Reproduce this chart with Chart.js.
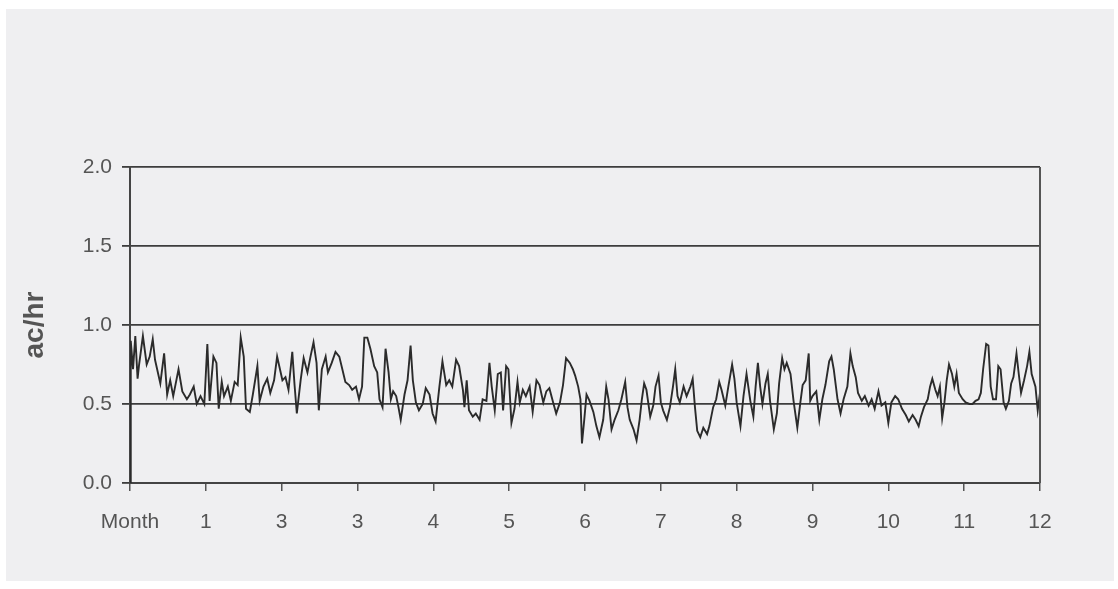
<!DOCTYPE html>
<html>
<head>
<meta charset="utf-8">
<script src="https://cdn.jsdelivr.net/npm/chart.js@4/dist/chart.umd.min.js"></script>
<style>
  html, body { margin: 0; padding: 0; background: #fff; }
  #wrap { position: relative; width: 1118px; height: 589px; }
  #paper { position: absolute; left: 6px; top: 9px; right: 4px; bottom: 8px; background: #efeff1; }
  #myChart { position: absolute; left: 0; top: 0; }
</style>
</head>
<body>
<div id="wrap">
  <div id="paper"></div>
  <canvas id="myChart" width="1118" height="589"></canvas>
</div>
<script>
// x tick labels (as printed, including the repeated "3")
const monthLabels = ['Month', '1', '3', '3', '4', '5', '6', '7', '8', '9', '10', '11', '12'];

// time position in months
const months = [
  0.00, 0.01, 0.04, 0.07, 0.10, 0.12, 0.17, 0.22, 0.26, 0.30, 0.33, 0.40, 0.45, 0.49, 0.53, 0.57,
  0.64, 0.69, 0.75, 0.79, 0.84, 0.88, 0.93, 0.98, 1.02, 1.05, 1.10, 1.14, 1.17, 1.21, 1.24, 1.29,
  1.33, 1.38, 1.42, 1.46, 1.50, 1.53, 1.58, 1.62, 1.68, 1.71, 1.76, 1.81, 1.85, 1.90, 1.94, 2.01,
  2.05, 2.09, 2.14, 2.17, 2.20, 2.25, 2.29, 2.34, 2.38, 2.42, 2.46, 2.49, 2.53, 2.58, 2.61, 2.66,
  2.71, 2.76, 2.80, 2.84, 2.89, 2.93, 2.98, 3.02, 3.06, 3.09, 3.13, 3.17, 3.22, 3.26, 3.29, 3.33,
  3.37, 3.41, 3.44, 3.47, 3.51, 3.54, 3.57, 3.62, 3.66, 3.70, 3.73, 3.77, 3.81, 3.86, 3.90, 3.95,
  3.99, 4.03, 4.08, 4.12, 4.17, 4.21, 4.25, 4.30, 4.34, 4.39, 4.41, 4.44, 4.47, 4.52, 4.56, 4.61,
  4.65, 4.70, 4.74, 4.77, 4.81, 4.85, 4.89, 4.92, 4.96, 4.99, 5.03, 5.07, 5.11, 5.14, 5.18, 5.22,
  5.27, 5.31, 5.36, 5.40, 5.45, 5.49, 5.53, 5.58, 5.62, 5.67, 5.71, 5.75, 5.80, 5.84, 5.87, 5.91,
  5.94, 5.96, 5.99, 6.02, 6.06, 6.11, 6.15, 6.19, 6.24, 6.28, 6.31, 6.35, 6.39, 6.44, 6.48, 6.53,
  6.56, 6.59, 6.64, 6.68, 6.72, 6.75, 6.78, 6.81, 6.86, 6.90, 6.93, 6.97, 7.00, 7.03, 7.08, 7.12,
  7.16, 7.19, 7.22, 7.25, 7.30, 7.34, 7.39, 7.42, 7.45, 7.48, 7.52, 7.56, 7.61, 7.64, 7.69, 7.73,
  7.77, 7.80, 7.85, 7.89, 7.94, 7.97, 8.00, 8.05, 8.09, 8.13, 8.18, 8.22, 8.25, 8.28, 8.31, 8.34,
  8.38, 8.41, 8.44, 8.49, 8.53, 8.56, 8.60, 8.63, 8.66, 8.71, 8.75, 8.80, 8.84, 8.87, 8.91, 8.95,
  8.97, 9.00, 9.05, 9.09, 9.13, 9.17, 9.22, 9.25, 9.28, 9.33, 9.37, 9.41, 9.46, 9.50, 9.53, 9.57,
  9.60, 9.65, 9.69, 9.74, 9.78, 9.82, 9.87, 9.91, 9.96, 10.00, 10.04, 10.09, 10.13, 10.18, 10.23, 10.27,
  10.32, 10.36, 10.40, 10.43, 10.47, 10.52, 10.55, 10.58, 10.62, 10.65, 10.68, 10.71, 10.74, 10.77, 10.80, 10.84,
  10.87, 10.90, 10.93, 10.98, 11.02, 11.07, 11.11, 11.15, 11.19, 11.22, 11.25, 11.29, 11.32, 11.35, 11.38, 11.42,
  11.45, 11.48, 11.52, 11.55, 11.59, 11.62, 11.65, 11.69, 11.72, 11.75, 11.79, 11.83, 11.86, 11.89, 11.94, 11.97,
  12.00
];

// air changes per hour
const airChanges = [
  0, 0.90, 0.72, 0.93, 0.66, 0.75, 0.93, 0.75, 0.80, 0.91, 0.78, 0.63, 0.82, 0.56, 0.65, 0.55,
  0.72, 0.58, 0.53, 0.56, 0.61, 0.50, 0.55, 0.50, 0.88, 0.52, 0.80, 0.76, 0.47, 0.64, 0.55, 0.61,
  0.52, 0.64, 0.62, 0.92, 0.80, 0.47, 0.45, 0.56, 0.74, 0.52, 0.61, 0.66, 0.57, 0.65, 0.80, 0.65,
  0.67, 0.59, 0.83, 0.62, 0.44, 0.65, 0.79, 0.70, 0.80, 0.89, 0.76, 0.46, 0.72, 0.80, 0.70, 0.76,
  0.83, 0.80, 0.72, 0.64, 0.62, 0.59, 0.61, 0.53, 0.61, 0.92, 0.92, 0.85, 0.74, 0.70, 0.53, 0.48,
  0.85, 0.70, 0.53, 0.58, 0.55, 0.48, 0.40, 0.56, 0.65, 0.87, 0.65, 0.51, 0.46, 0.50, 0.60, 0.56,
  0.44, 0.39, 0.61, 0.77, 0.62, 0.65, 0.61, 0.78, 0.74, 0.59, 0.48, 0.65, 0.46, 0.42, 0.44, 0.40,
  0.53, 0.52, 0.76, 0.61, 0.46, 0.69, 0.70, 0.46, 0.74, 0.72, 0.38, 0.47, 0.64, 0.51, 0.59, 0.55,
  0.61, 0.45, 0.65, 0.62, 0.51, 0.58, 0.60, 0.51, 0.44, 0.51, 0.62, 0.79, 0.76, 0.72, 0.68, 0.61,
  0.53, 0.25, 0.40, 0.56, 0.52, 0.45, 0.36, 0.29, 0.40, 0.61, 0.53, 0.34, 0.40, 0.46, 0.53, 0.64,
  0.48, 0.40, 0.34, 0.27, 0.40, 0.53, 0.63, 0.59, 0.42, 0.49, 0.61, 0.68, 0.51, 0.46, 0.40, 0.48,
  0.61, 0.72, 0.55, 0.51, 0.61, 0.55, 0.61, 0.66, 0.48, 0.33, 0.29, 0.35, 0.31, 0.36, 0.48, 0.53,
  0.64, 0.59, 0.49, 0.61, 0.75, 0.66, 0.51, 0.36, 0.55, 0.69, 0.52, 0.42, 0.61, 0.76, 0.61, 0.50,
  0.63, 0.69, 0.52, 0.34, 0.44, 0.63, 0.79, 0.72, 0.76, 0.69, 0.52, 0.35, 0.51, 0.62, 0.65, 0.82,
  0.52, 0.55, 0.58, 0.40, 0.53, 0.62, 0.77, 0.80, 0.72, 0.53, 0.44, 0.53, 0.61, 0.82, 0.74, 0.67,
  0.57, 0.52, 0.55, 0.49, 0.53, 0.47, 0.58, 0.49, 0.51, 0.38, 0.51, 0.55, 0.53, 0.47, 0.43, 0.39,
  0.43, 0.40, 0.36, 0.42, 0.48, 0.53, 0.61, 0.66, 0.59, 0.55, 0.61, 0.41, 0.51, 0.65, 0.75, 0.69,
  0.61, 0.69, 0.57, 0.53, 0.51, 0.50, 0.50, 0.52, 0.53, 0.57, 0.72, 0.88, 0.87, 0.61, 0.53, 0.53,
  0.74, 0.72, 0.51, 0.47, 0.52, 0.63, 0.67, 0.82, 0.69, 0.57, 0.65, 0.74, 0.83, 0.69, 0.61, 0.46,
  0.57
];

const points = months.map((m, i) => ({ x: m, y: airChanges[i] }));

// frame line on the right side of the plot
const rightFrame = {
    id: 'rightFrame',
    afterDraw(chart) {
        const { ctx, chartArea } = chart;
        ctx.save();
        ctx.strokeStyle = '#555';
        ctx.lineWidth = 2;
        ctx.beginPath();
        ctx.moveTo(chartArea.right, chartArea.top);
        ctx.lineTo(chartArea.right, chartArea.bottom);
        ctx.stroke();
        ctx.restore();
    }
};

const ctx = document.getElementById('myChart');
new Chart(ctx, {
    type: 'line',
    data: {
        datasets: [{
            data: points,
            borderColor: '#2b2b2b',
            borderWidth: 1.9,
            pointRadius: 0,
            tension: 0,
        }]
    },
    options: {
        responsive: false,
        animation: false,
        devicePixelRatio: 1,
        layout: { padding: { top: 167, right: 78, bottom: 0, left: 0 } },
        plugins: {
            legend: { display: false },
            tooltip: { enabled: false },
        },
        scales: {
            x: {
                type: 'linear',
                min: 0,
                max: 12,
                afterFit: (scale) => { scale.height = 106; },
                ticks: {
                    stepSize: 1,
                    autoSkip: false,
                    maxRotation: 0,
                    padding: 19,
                    color: '#555',
                    font: { family: 'Liberation Sans', size: 21 },
                    callback: (v) => monthLabels[v],
                },
                grid: {
                    drawOnChartArea: false,
                    drawTicks: true,
                    tickLength: 8,
                    color: '#555',
                    lineWidth: 1.5,
                },
                border: { color: '#444', width: 2 },
            },
            y: {
                min: 0,
                max: 2,
                afterFit: (scale) => { scale.width = 130; },
                ticks: {
                    stepSize: 0.5,
                    padding: 10,
                    color: '#555',
                    font: { family: 'Liberation Sans', size: 21 },
                    callback: (v) => v.toFixed(1),
                },
                grid: {
                    color: '#3d3d3d',
                    lineWidth: 1.8,
                    tickLength: 8,
                },
                border: { color: '#444', width: 2 },
                title: {
                    display: true,
                    text: 'ac/hr',
                    color: '#555',
                    font: { family: 'Liberation Sans', size: 28, weight: 'bold' },
                    padding: { top: 18, bottom: 0 },
                },
            }
        }
    },
    plugins: [rightFrame]
});
</script>
</body>
</html>
